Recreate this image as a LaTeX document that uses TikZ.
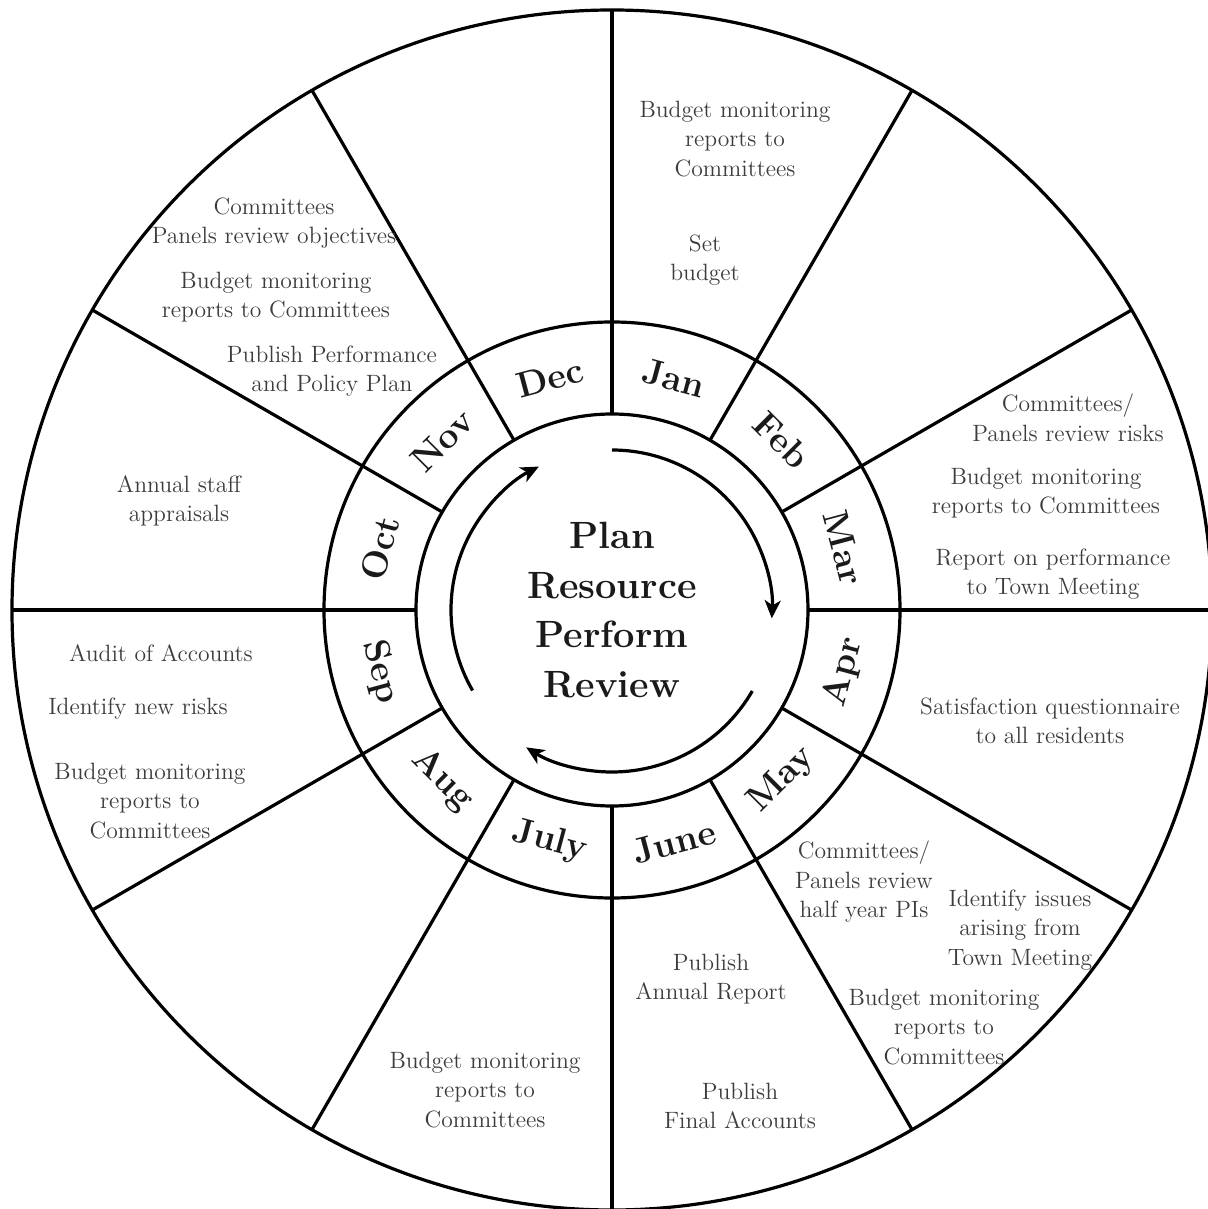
\documentclass[tikz,border=0pt]{standalone}
\usepackage{fontspec}
\usetikzlibrary{arrows.meta}
\begin{document}
\begin{tikzpicture}[x=0.5pt, y=0.5pt,
    month/.style={font=\fontsize{18}{20}\selectfont\bfseries, text=ink, inner sep=0pt},
    task/.style={font=\fontsize{11.8}{14.75}\selectfont, text=ink!85, align=center, inner sep=0pt},
    hub/.style={font=\fontsize{19}{24.75}\selectfont\bfseries, text=ink, align=center, inner sep=0pt}]
            \definecolor{ink}{HTML}{1A1A1A}
            \useasboundingbox (-612,-599) rectangle (596,610);
            % wheel
            \draw[ultra thick] (0,0) circle[radius=600];
            \draw[ultra thick] (0,0) circle[radius=288];
            \draw[ultra thick] (0,0) circle[radius=196];
            \draw[ultra thick] (  0:196) -- (  0:600);
            \draw[ultra thick] ( 30:196) -- ( 30:600);
            \draw[ultra thick] ( 60:196) -- ( 60:600);
            \draw[ultra thick] ( 90:196) -- ( 90:600);
            \draw[ultra thick] (120:196) -- (120:600);
            \draw[ultra thick] (150:196) -- (150:600);
            \draw[ultra thick] (180:196) -- (180:600);
            \draw[ultra thick] (210:196) -- (210:600);
            \draw[ultra thick] (240:196) -- (240:600);
            \draw[ultra thick] (270:196) -- (270:600);
            \draw[ultra thick] (300:196) -- (300:600);
            \draw[ultra thick] (330:196) -- (330:600);
            % cycle arrows
            \draw[ultra thick, -{Stealth[length=9pt, width=8pt, inset=2.5pt]}] ( 90:160) arc[start angle= 90, end angle=  -3, radius=160];
            \draw[ultra thick, -{Stealth[length=9pt, width=8pt, inset=2.5pt]}] (-30:162) arc[start angle=-30, end angle=-122, radius=162];
            \draw[ultra thick, -{Stealth[length=9pt, width=8pt, inset=2.5pt]}] (210:161) arc[start angle=210, end angle= 117, radius=161];
            \node[hub] (hub) at (0,0) {Plan\\Resource\\Perform\\Review};
            % months
            \node[month, rotate=-15] (jan) at (  75:240) {Jan};
            \node[month, rotate=-45] (feb) at (  45:240) {Feb};
            \node[month, rotate=-75] (mar) at (  15:240) {Mar};
            \node[month, rotate= 75] (apr) at ( -15:240) {Apr};
            \node[month, rotate= 45] (may) at ( -45:240) {May};
            \node[month, rotate= 15] (jun) at ( -75:240) {June};
            \node[month, rotate=-15] (jul) at (-105:240) {July};
            \node[month, rotate=-45] (aug) at (-135:240) {Aug};
            \node[month, rotate=-75] (sep) at (-165:240) {Sep};
            \node[month, rotate= 75] (oct) at ( 165:240) {Oct};
            \node[month, rotate= 45] (nov) at ( 135:240) {Nov};
            \node[month, rotate= 15] (dec) at ( 105:240) {Dec};
            % tasks
            \node[task] (jan-budget) at ( 123, 471) {Budget monitoring\\reports to\\Committees};
            \node[task] (jan-set)    at (  93, 350) {Set\\budget};
            \node[task] (mar-risks)  at ( 456, 192) {Committees/\\Panels review risks};
            \node[task] (mar-budget) at ( 434, 117) {Budget monitoring\\reports to Committees};
            \node[task] (mar-report) at ( 441,  36) {Report on performance\\to Town Meeting};
            \node[task] (apr-survey) at ( 438,-111) {Satisfaction questionnaire\\to all residents};
            \node[task] (may-pis)    at ( 252,-272) {Committees/\\Panels review\\half year PIs};
            \node[task] (may-issues) at ( 408,-320) {Identify issues\\arising from\\Town Meeting};
            \node[task] (may-budget) at ( 332,-417) {Budget monitoring\\reports to\\Committees};
            \node[task] (jun-annual) at (  99,-369) {Publish\\Annual Report};
            \node[task] (jun-final)  at ( 128,-496) {Publish\\Final Accounts};
            \node[task] (jul-budget) at (-127,-480) {Budget monitoring\\reports to\\Committees};
            \node[task] (sep-audit)  at (-451, -43) {Audit of Accounts};
            \node[task] (sep-risks)  at (-474, -99) {Identify new risks};
            \node[task] (sep-budget) at (-462,-191) {Budget monitoring\\reports to\\Committees};
            \node[task] (oct-staff)  at (-433, 109) {Annual staff\\appraisals};
            \node[task] (nov-panels) at (-338, 387) {Committees\\Panels review objectives};
            \node[task] (nov-budget) at (-336, 313) {Budget monitoring\\reports to Committees};
            \node[task] (nov-plan)   at (-280, 239) {Publish Performance\\and Policy Plan};
        \end{tikzpicture}
\end{document}
